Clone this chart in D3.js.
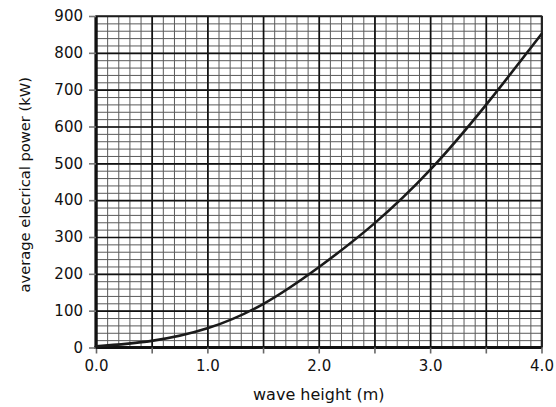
<!DOCTYPE html>
<html>
<head>
<meta charset="utf-8">
<script src="https://cdn.jsdelivr.net/npm/d3@7"></script>
<style>
  html, body { margin: 0; padding: 0; background: #fff; }
  svg { display: block; }
  text { font-family: "DejaVu Sans", Verdana, sans-serif; fill: #111; }
</style>
</head>
<body>
<svg id="chart" width="556" height="407"></svg>
<script>
// ---- data ----
const waveHeight = [0.0, 0.5, 1.0, 1.5, 2.0, 2.5, 3.0, 3.5, 4.0];
const power      = [3, 18, 52, 118, 218, 337, 482, 658, 851];
const xTickValues = [0, 0.5, 1, 1.5, 2, 2.5, 3, 3.5, 4];
const xTickLabels = ["0.0", "", "1.0", "", "2.0", "", "3.0", "", "4.0"];
const yTickValues = [0, 100, 200, 300, 400, 500, 600, 700, 800, 900];
const xTitle = "wave height (m)";
const yTitle = "average elecrical power (kW)";

// ---- layout ----
const svg = d3.select("#chart");
const pL = 96, pR = 541.5, pT = 16, pB = 347.5;
const W = pR - pL, H = pB - pT;

const x = d3.scaleLinear().domain([0, 4]).range([pL, pR]);
const y = d3.scaleLinear().domain([0, 900]).range([pB, pT]);

const xMinor = d3.range(0, 41).map(i => i / 10);
const yMinor = d3.range(0, 46).map(i => i * 20);

// minor grid
svg.append("g")
  .attr("transform", `translate(0,${pB})`)
  .call(d3.axisBottom(x).tickValues(xMinor).tickSize(-H).tickFormat(""))
  .call(g => g.select(".domain").remove())
  .call(g => g.selectAll("line").attr("stroke", "#5a5a5a").attr("stroke-width", 1));
svg.append("g")
  .attr("transform", `translate(${pL},0)`)
  .call(d3.axisLeft(y).tickValues(yMinor).tickSize(-W).tickFormat(""))
  .call(g => g.select(".domain").remove())
  .call(g => g.selectAll("line").attr("stroke", "#5a5a5a").attr("stroke-width", 1));

// major grid
svg.append("g")
  .attr("transform", `translate(0,${pB})`)
  .call(d3.axisBottom(x).tickValues(xTickValues).tickSize(-H).tickFormat(""))
  .call(g => g.select(".domain").remove())
  .call(g => g.selectAll("line").attr("stroke", "#111").attr("stroke-width", 1.7));
svg.append("g")
  .attr("transform", `translate(${pL},0)`)
  .call(d3.axisLeft(y).tickValues(yTickValues).tickSize(-W).tickFormat(""))
  .call(g => g.select(".domain").remove())
  .call(g => g.selectAll("line").attr("stroke", "#111").attr("stroke-width", 1.7));

// frame
svg.append("rect")
  .attr("x", pL).attr("y", pT).attr("width", W).attr("height", H)
  .attr("fill", "none").attr("stroke", "#222").attr("stroke-width", 1.5);

// axes with outward ticks and labels
const xAxis = svg.append("g")
  .attr("transform", `translate(0,${pB})`)
  .call(d3.axisBottom(x).tickValues(xTickValues).tickSize(6).tickPadding(7)
    .tickFormat((d, i) => xTickLabels[i]));
xAxis.select(".domain").attr("stroke", "#111").attr("stroke-width", 3.2)
  .attr("d", `M${pL - 1.5},0H${pR}`);
xAxis.selectAll("line").attr("stroke", "#666").attr("stroke-width", 1.6);
xAxis.selectAll("text").attr("font-size", 15).attr("fill", "#111")
  .style("font-family", "'DejaVu Sans', Verdana, sans-serif");

const yAxis = svg.append("g")
  .attr("transform", `translate(${pL},0)`)
  .call(d3.axisLeft(y).tickValues(yTickValues).tickSize(7).tickPadding(6));
yAxis.select(".domain").attr("stroke", "#111").attr("stroke-width", 3.2)
  .attr("d", `M0,${pT}V${pB + 1.5}`);
yAxis.selectAll("line").attr("stroke", "#777").attr("stroke-width", 1.6);
yAxis.selectAll("text").attr("font-size", 15).attr("fill", "#111")
  .style("font-family", "'DejaVu Sans', Verdana, sans-serif");

// curve
const line = d3.line()
  .x((d, i) => x(waveHeight[i]))
  .y(d => y(d))
  .curve(d3.curveNatural);
svg.append("path")
  .datum(power)
  .attr("d", line)
  .attr("fill", "none")
  .attr("stroke", "#1a1a1a")
  .attr("stroke-width", 2.6)
  .attr("stroke-linecap", "round");

// titles
svg.append("text")
  .attr("x", (pL + pR) / 2).attr("y", 400)
  .attr("text-anchor", "middle").attr("font-size", 16)
  .text(xTitle);
svg.append("text")
  .attr("transform", `translate(30,${(pT + pB) / 2 + 3}) rotate(-90)`)
  .attr("text-anchor", "middle").attr("font-size", 14.7)
  .text(yTitle);
</script>
</body>
</html>
